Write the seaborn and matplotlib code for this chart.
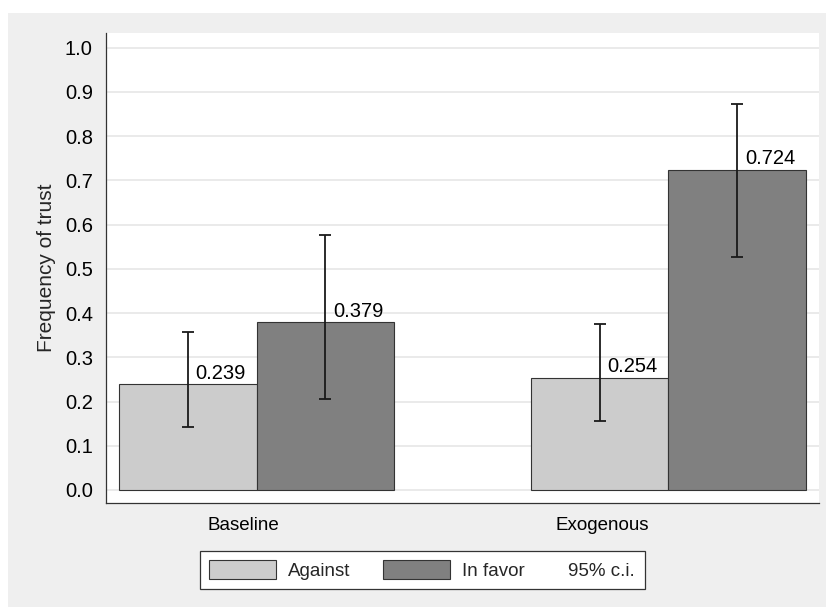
import pandas as pd
import numpy as np
import matplotlib
matplotlib.use('Agg')
import matplotlib.pyplot as plt
import matplotlib.patches as mpatches
import seaborn as sns

# data
treatments = ['Baseline', 'Exogenous']
groups = ['Against', 'In favor']
freq_against = [0.239, 0.254]
freq_favor = [0.379, 0.724]
ci_low_against = [0.142, 0.155]
ci_high_against = [0.358, 0.375]
ci_low_favor = [0.206, 0.527]
ci_high_favor = [0.577, 0.872]
y_ticks = [0.0, 0.1, 0.2, 0.3, 0.4, 0.5, 0.6, 0.7, 0.8, 0.9, 1.0]

df = pd.DataFrame({
    'treatment': treatments * 2,
    'group': [groups[0]] * 2 + [groups[1]] * 2,
    'freq': freq_against + freq_favor,
    'lo': ci_low_against + ci_low_favor,
    'hi': ci_high_against + ci_high_favor,
})

sns.set_style('white')
plt.rcParams['font.family'] = ['Liberation Sans', 'DejaVu Sans']

fig = plt.figure(figsize=(8.27, 6.07), dpi=100)
fig.patch.set_facecolor('white')
# light gray graph region (Stata style)
fig.patches.append(mpatches.Rectangle((8 / 827, 0), 818 / 827, 1 - 13 / 607,
                                      transform=fig.transFigure, facecolor='#efefef',
                                      edgecolor='none', zorder=-10))

ax = fig.add_axes([106 / 827, 1 - 503 / 607, 713 / 827, 470 / 607])
ax.set_facecolor('white')

palette = {'Against': '#cccccc', 'In favor': '#808080'}
sns.barplot(data=df, x='treatment', y='freq', hue='group', order=treatments,
            hue_order=groups, palette=palette, width=0.667, errorbar=None,
            edgecolor='#333333', linewidth=0.8, saturation=1, legend=False, ax=ax)

# confidence intervals and value labels
for cont, g in zip(ax.containers, groups):
    sub = df[df['group'] == g].set_index('treatment').loc[treatments]
    xs = [b.get_x() + b.get_width() / 2 for b in cont]
    h = sub['freq'].values
    ax.errorbar(xs, h, yerr=[h - sub['lo'].values, sub['hi'].values - h],
                fmt='none', ecolor='#1a1a1a', elinewidth=1.3, capsize=4,
                capthick=1.3, zorder=4)
    for x, v in zip(xs, h):
        ax.annotate(f'{v:.3f}', (x, v), xytext=(5.5, 1.0), textcoords='offset points',
                    ha='left', va='bottom', fontsize=14.5, color='black')

ax.set_ylim(-0.0294, 1.0332)
ax.set_xlim(-0.3653, 1.3653)
ax.set_yticks(y_ticks)
ax.set_yticklabels([f'{t:.1f}' for t in y_ticks])
ax.yaxis.grid(True, color='#e6e6e6', linewidth=1.2)
ax.set_axisbelow(True)

tick_offsets = [-0.033, -0.161]
ax.set_xticks([i + o for i, o in enumerate(tick_offsets)])
ax.set_xticklabels(treatments)
ax.tick_params(axis='both', direction='out', length=6, width=0.9, color='#333333',
               labelcolor='black', pad=3.5)
ax.tick_params(axis='y', labelsize=14.5)
ax.tick_params(axis='x', labelsize=13.5, pad=4)
ax.set_xlabel('')
ax.set_ylabel('Frequency of trust', fontsize=15, labelpad=6)

for side in ['top', 'right']:
    ax.spines[side].set_visible(False)
for side in ['left', 'bottom']:
    ax.spines[side].set_color('#333333')
    ax.spines[side].set_linewidth(0.9)

handles = [mpatches.Patch(facecolor=palette[g], edgecolor='#333333', linewidth=0.8)
           for g in groups]
handles.append(mpatches.Patch(facecolor='none', edgecolor='none'))
leg = fig.legend(handles, groups + ['95% c.i.'], loc='center', ncol=3,
                 bbox_to_anchor=(422 / 827, 1 - 570 / 607), fontsize=13.5,
                 handlelength=3.6, handleheight=1.2, handletextpad=0.6,
                 columnspacing=1.75, borderpad=0.5, frameon=True, fancybox=False,
                 edgecolor='#333333', framealpha=1)
leg.get_frame().set_linewidth(0.9)
# the c.i. entry has no key, so drop the width of its handle box
col = leg._legend_handle_box.get_children()[2]
col.get_children()[0].get_children()[0].width = 0

fig.savefig('out.png', dpi=100, facecolor=fig.get_facecolor())
